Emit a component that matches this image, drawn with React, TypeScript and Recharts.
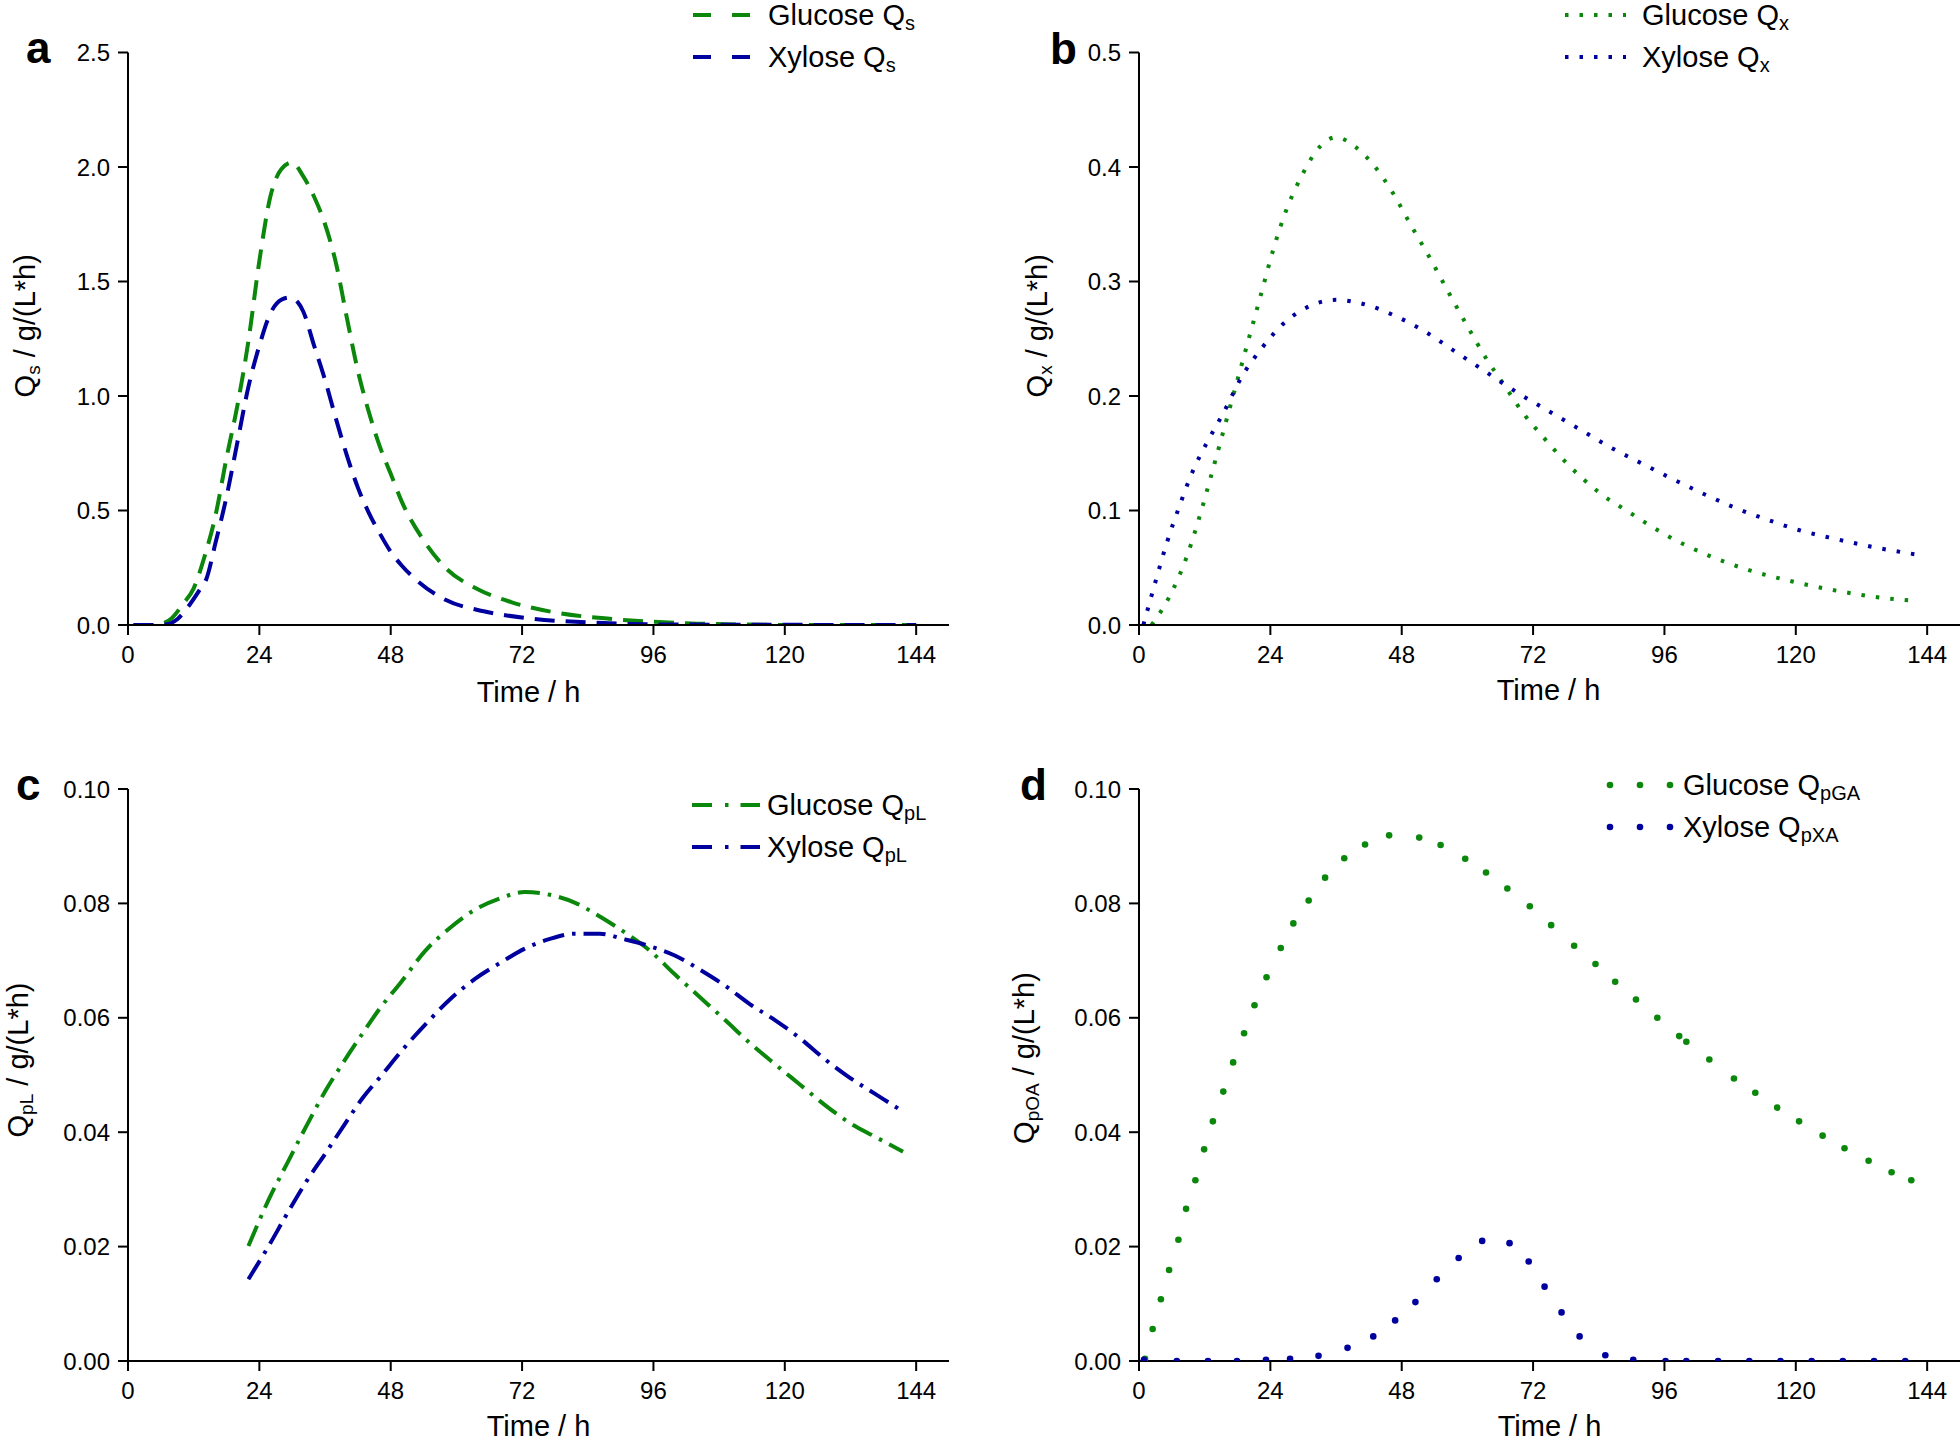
import React from 'react';
import { LineChart, Line, XAxis, YAxis, Legend } from 'recharts';

const FONT = '"Liberation Sans", Arial, Helvetica, sans-serif';
const GREEN = '#0b870b';
const BLUE = '#00009e';

// shared time axis
const timeTicks = [0, 24, 48, 72, 96, 120, 144];
const timeMinorTicks = [12, 36, 60, 84, 108, 132];
const timeDomain: [number, number] = [0, 150];

// ---------- panel a : substrate uptake Qs ----------
const qsTicks = [0, 0.5, 1.0, 1.5, 2.0, 2.5];
const qsMinorTicks = [0.25, 0.75, 1.25, 1.75, 2.25];
const glucoseQsTime = [1, 4, 6, 8, 10, 12, 14, 16, 18, 20, 22, 24, 26, 28, 30, 32, 34, 36, 38, 40, 42, 44, 46, 48, 50, 54, 58, 64, 70, 78, 88, 96, 104, 112, 124, 144];
const glucoseQsValue = [0, 0, 0.005, 0.03, 0.09, 0.16, 0.3, 0.48, 0.73, 0.96, 1.24, 1.59, 1.87, 1.99, 2.02, 1.96, 1.87, 1.75, 1.58, 1.34, 1.11, 0.93, 0.78, 0.66, 0.54, 0.37, 0.25, 0.155, 0.1, 0.055, 0.027, 0.014, 0.006, 0.002, 0, 0];
const xyloseQsTime = [1, 4, 7, 9, 11, 13, 14.3, 16, 18, 20, 22, 24, 26, 28, 29.5, 31, 32, 34, 36, 38, 40, 42, 44, 46, 48, 50, 53, 58, 65, 73, 85, 100, 144];
const xyloseQsValue = [0, 0, 0.003, 0.025, 0.08, 0.15, 0.2, 0.36, 0.56, 0.8, 1.04, 1.22, 1.36, 1.42, 1.43, 1.41, 1.37, 1.22, 1.07, 0.9, 0.74, 0.6, 0.49, 0.4, 0.32, 0.26, 0.19, 0.11, 0.06, 0.03, 0.01, 0.002, 0];

// ---------- panel b : biomass Qx ----------
const qxTicks = [0, 0.1, 0.2, 0.3, 0.4, 0.5];
const qxMinorTicks = [0.05, 0.15, 0.25, 0.35, 0.45];
const glucoseQxTime = [2.3, 5.7, 8.6, 10.9, 13.1, 15.4, 17.7, 20, 22.3, 24.6, 26.8, 29.7, 33.1, 36, 39.4, 42.8, 46.3, 49.7, 53.1, 56.5, 60, 63.4, 66.8, 70.2, 73.7, 78.2, 84, 89.7, 96.5, 103.4, 111.4, 119.4, 127.4, 135.4, 142.2];
const glucoseQxValue = [0, 0.026, 0.058, 0.092, 0.129, 0.169, 0.209, 0.249, 0.289, 0.329, 0.361, 0.392, 0.418, 0.426, 0.418, 0.402, 0.378, 0.349, 0.321, 0.291, 0.261, 0.233, 0.209, 0.185, 0.165, 0.141, 0.116, 0.098, 0.078, 0.062, 0.048, 0.038, 0.03, 0.024, 0.021];
const xyloseQxTime = [0.8, 2.9, 5.1, 7.4, 9.7, 12.6, 15.4, 18.8, 22.3, 26.8, 31.4, 36, 40.5, 46.3, 52, 57.7, 63.4, 69.1, 74.8, 80.5, 86.2, 91.9, 97.7, 103.4, 109.1, 114.8, 120.5, 127.4, 134.2, 142.8];
const xyloseQxValue = [0, 0.036, 0.072, 0.104, 0.133, 0.161, 0.185, 0.217, 0.241, 0.265, 0.279, 0.284, 0.281, 0.271, 0.257, 0.239, 0.221, 0.203, 0.187, 0.171, 0.155, 0.141, 0.127, 0.114, 0.102, 0.092, 0.083, 0.075, 0.068, 0.061];

// ---------- panel c : lipid QpL ----------
const qpTicks = [0, 0.02, 0.04, 0.06, 0.08, 0.1];
const qpMinorTicks = [0.01, 0.03, 0.05, 0.07, 0.09];
const glucoseQpLTime = [22, 25.7, 29.1, 32.6, 36, 39.4, 42.8, 46.3, 49.7, 54.3, 58.8, 63.4, 68, 72.5, 77.1, 81.7, 86.2, 90.8, 95.4, 99.9, 104.5, 109.1, 113.6, 118.2, 122.8, 127.4, 131.9, 136.5, 141.6];
const glucoseQpLValue = [0.0201, 0.0282, 0.0346, 0.0411, 0.0471, 0.0523, 0.0572, 0.062, 0.066, 0.0717, 0.0757, 0.0789, 0.0809, 0.082, 0.0815, 0.0801, 0.0777, 0.0749, 0.0717, 0.0676, 0.0636, 0.0596, 0.0556, 0.0519, 0.0483, 0.0447, 0.0416, 0.0392, 0.0366];
const xyloseQpLTime = [22, 25.7, 29.1, 32.6, 36, 39.4, 42.8, 46.3, 49.7, 54.3, 58.8, 63.4, 68, 72.5, 77.1, 81.7, 86.2, 90.8, 95.4, 99.9, 104.5, 109.1, 113.6, 118.2, 122.8, 127.4, 131.9, 136.5, 141.1];
const xyloseQpLValue = [0.0143, 0.0201, 0.0258, 0.0314, 0.0362, 0.0411, 0.0459, 0.0499, 0.0539, 0.0588, 0.0632, 0.0668, 0.0696, 0.0721, 0.0738, 0.0747, 0.0747, 0.0737, 0.0725, 0.0709, 0.0684, 0.0656, 0.0624, 0.0596, 0.0564, 0.0527, 0.0495, 0.0467, 0.0439];

// ---------- panel d : organic acids QpOA ----------
const glucoseQpGATime = [1.1, 2.5, 4.0, 5.5, 7.2, 8.6, 10.3, 11.9, 13.5, 15.4, 17.2, 19.2, 21.1, 23.3, 25.9, 28.2, 31, 34, 37.5, 41.3, 45.7, 51.2, 55.1, 59.6, 63.4, 67.3, 71.4, 75.3, 79.5, 83.4, 87, 90.8, 94.7, 98.7, 100, 104.2, 108.7, 112.6, 116.6, 120.6, 124.9, 128.9, 133.3, 137.5, 141.1];
const glucoseQpGAValue = [0.0004, 0.0056, 0.0108, 0.0159, 0.0212, 0.0266, 0.0316, 0.037, 0.0419, 0.0471, 0.0522, 0.0573, 0.0622, 0.0671, 0.0722, 0.0765, 0.0805, 0.0845, 0.0879, 0.0903, 0.0919, 0.0915, 0.0902, 0.0878, 0.0854, 0.0826, 0.0795, 0.0762, 0.0726, 0.0694, 0.0663, 0.0632, 0.06, 0.0568, 0.0558, 0.0527, 0.0494, 0.0469, 0.0443, 0.0419, 0.0394, 0.0372, 0.035, 0.033, 0.0316];
const xyloseQpXATime = [0.9, 6.9, 12.6, 17.9, 23.2, 27.6, 32.8, 38.1, 42.8, 46.8, 50.5, 54.4, 58.4, 62.7, 67.7, 71.2, 74.1, 77.2, 80.5, 85.2, 90.3, 96.2, 100, 105.8, 111.5, 117.2, 122.9, 128.6, 134.3, 140];
const xyloseQpXAValue = [0.0002, 0, 0, 0, 0.0002, 0.0004, 0.0009, 0.0023, 0.0043, 0.0071, 0.0103, 0.0143, 0.018, 0.021, 0.0206, 0.0174, 0.013, 0.0085, 0.0043, 0.001, 0.0002, 0, 0, 0, 0, 0, 0, 0, 0, 0];

const zip = (t: number[], v: number[]) => t.map((x, i) => ({ t: x, v: v[i] }));

type Kind = 'dash' | 'dot' | 'dashdot' | 'scatter';

const STYLE: Record<Kind, { dash?: string; width: number }> = {
  dash: { dash: '20 11', width: 4 },
  dot: { dash: '3.5 11', width: 4 },
  dashdot: { dash: '22 8 3.5 8', width: 4 },
  scatter: { width: 0 },
};

const axisLine = { stroke: '#000', strokeWidth: 2 };
const tickLine = { stroke: '#000', strokeWidth: 2 };
const tickFont = { fontSize: 24, fill: '#000', fontFamily: FONT };

const xTitle = (dx: number, dy: number) => (props: any) => {
  const vb = props.viewBox || {};
  const x = (vb.x ?? 0) + (vb.width ?? 0) / 2 + dx;
  const y = (vb.y ?? 0) + dy;
  return (
    <text x={x} y={y} textAnchor="middle" dominantBaseline="central" fontSize={29} fontFamily={FONT} fill="#000">
      Time / h
    </text>
  );
};

const yTitle = (sub: string, cx: number, dy: number) => (props: any) => {
  const vb = props.viewBox || {};
  const x = (vb.x ?? 0) + cx;
  const y = (vb.y ?? 0) + (vb.height ?? 0) / 2 + dy;
  return (
    <text x={x} y={y} transform={`rotate(-90 ${x} ${y})`} textAnchor="middle" dominantBaseline="central" fontSize={29} fontFamily={FONT} fill="#000">
      Q<tspan dy={8} fontSize={19}>{sub}</tspan>
      <tspan dy={-8}> / g/(L*h)</tspan>
    </text>
  );
};

type Item = { label: string; sub: string; color: string };

const LegendBox = ({ items, kind, textX }: { items: Item[]; kind: Kind; textX: number }) => (
  <svg width={330} height={84} style={{ overflow: 'visible', display: 'block' }}>
    {items.map((it, i) => {
      const y = 21 + 42 * i;
      let sample: React.ReactNode = null;
      if (kind === 'dash') {
        sample = <line x1={3} x2={60} y1={y} y2={y} stroke={it.color} strokeWidth={4} strokeDasharray="18 21" />;
      } else if (kind === 'dot') {
        sample = <line x1={0} x2={61} y1={y} y2={y} stroke={it.color} strokeWidth={4} strokeDasharray="3.5 11" />;
      } else if (kind === 'dashdot') {
        sample = <line x1={2} x2={70} y1={y} y2={y} stroke={it.color} strokeWidth={4} strokeDasharray="20 13 3.5 12 20" />;
      } else {
        sample = (
          <g fill={it.color}>
            <circle cx={5} cy={y} r={3.3} />
            <circle cx={35} cy={y} r={3.3} />
            <circle cx={65} cy={y} r={3.3} />
          </g>
        );
      }
      return (
        <g key={i}>
          {sample}
          <text x={textX} y={y} dominantBaseline="central" fontSize={29} fontFamily={FONT} fill="#000">
            {it.label} Q<tspan dy={8} fontSize={20}>{it.sub}</tspan>
          </text>
        </g>
      );
    })}
  </svg>
);

type PanelProps = {
  left: number;
  top: number;
  yWidth: number;
  marginTop: number;
  marginRight: number;
  xHeight: number;
  yDomain: [number, number];
  yTicks: number[];
  yMinor: number[];
  decimals: number;
  ySub: string;
  yTitleX: number;
  yTitleDy: number;
  xTitleDx: number;
  xTitleDy: number;
  kind: Kind;
  series: { name: string; sub: string; color: string; data: { t: number; v: number }[] }[];
  legendLeft: number;
  legendTop: number;
  legendTextX: number;
};

const Panel = (p: PanelProps) => {
  const st = STYLE[p.kind];
  return (
    <div style={{ position: 'absolute', left: p.left, top: p.top }}>
      <LineChart width={980} height={722} margin={{ top: p.marginTop, right: p.marginRight, left: 0, bottom: 0 }}>
        <XAxis
          xAxisId="main"
          type="number"
          dataKey="t"
          domain={timeDomain}
          ticks={timeTicks}
          interval={0}
          allowDataOverflow
          height={p.xHeight}
          axisLine={axisLine}
          tickLine={tickLine}
          tickSize={10}
          tickMargin={11}
          tick={tickFont}
          label={xTitle(p.xTitleDx, p.xTitleDy)}
        />
        <XAxis
          xAxisId="minor"
          type="number"
          dataKey="t"
          domain={timeDomain}
          ticks={timeMinorTicks}
          interval={0}
          allowDataOverflow
          height={0}
          axisLine={false}
          tickLine={tickLine}
          tickSize={6}
          tick={false}
        />
        <YAxis
          yAxisId="main"
          type="number"
          domain={p.yDomain}
          ticks={p.yTicks}
          interval={0}
          allowDataOverflow
          width={p.yWidth}
          axisLine={axisLine}
          tickLine={tickLine}
          tickSize={10}
          tickMargin={8}
          tick={tickFont}
          tickFormatter={(v: number) => v.toFixed(p.decimals)}
          label={yTitle(p.ySub, p.yTitleX, p.yTitleDy)}
        />
        <YAxis
          yAxisId="minor"
          type="number"
          domain={p.yDomain}
          ticks={p.yMinor}
          interval={0}
          allowDataOverflow
          width={0}
          axisLine={false}
          tickLine={tickLine}
          tickSize={6}
          tick={false}
        />
        {p.series.map((s) =>
          p.kind === 'scatter' ? (
            <Line
              key={s.name}
              xAxisId="main"
              yAxisId="main"
              data={s.data}
              dataKey="v"
              name={s.name}
              stroke="none"
              dot={{ r: 3.3, fill: s.color, stroke: 'none' }}
              activeDot={false}
              isAnimationActive={false}
            />
          ) : (
            <Line
              key={s.name}
              xAxisId="main"
              yAxisId="main"
              data={s.data}
              dataKey="v"
              name={s.name}
              type="monotone"
              stroke={s.color}
              strokeWidth={st.width}
              strokeDasharray={st.dash}
              dot={false}
              activeDot={false}
              isAnimationActive={false}
            />
          )
        )}
        <Legend
          layout="vertical"
          align="center"
          verticalAlign="middle"
          wrapperStyle={{ left: p.legendLeft, top: p.legendTop, width: 330, height: 84 }}
          content={() => (
            <LegendBox
              items={p.series.map((s) => ({ label: s.name, sub: s.sub, color: s.color }))}
              kind={p.kind}
              textX={p.legendTextX}
            />
          )}
        />
      </LineChart>
    </div>
  );
};

export default function App() {
  return (
    <div style={{ position: 'absolute', left: 0, top: 0, width: 1960, height: 1444, background: '#fff', overflow: 'hidden', fontFamily: FONT }}>
      <Panel
        left={0}
        top={0}
        yWidth={128}
        marginTop={52.5}
        marginRight={31}
        xHeight={97}
        yDomain={[0, 2.5]}
        yTicks={qsTicks}
        yMinor={qsMinorTicks}
        decimals={1}
        ySub="s"
        yTitleX={25}
        yTitleDy={-13}
        xTitleDx={-10}
        xTitleDy={67}
        kind="dash"
        series={[
          { name: 'Glucose', sub: 's', color: GREEN, data: zip(glucoseQsTime, glucoseQsValue) },
          { name: 'Xylose', sub: 's', color: BLUE, data: zip(xyloseQsTime, xyloseQsValue) },
        ]}
        legendLeft={690}
        legendTop={-6}
        legendTextX={78}
      />
      <Panel
        left={980}
        top={0}
        yWidth={159}
        marginTop={52.5}
        marginRight={0}
        xHeight={97}
        yDomain={[0, 0.5]}
        yTicks={qxTicks}
        yMinor={qxMinorTicks}
        decimals={1}
        ySub="x"
        yTitleX={57}
        yTitleDy={-13}
        xTitleDx={-1}
        xTitleDy={65}
        kind="dot"
        series={[
          { name: 'Glucose', sub: 'x', color: GREEN, data: zip(glucoseQxTime, glucoseQxValue) },
          { name: 'Xylose', sub: 'x', color: BLUE, data: zip(xyloseQxTime, xyloseQxValue) },
        ]}
        legendLeft={585}
        legendTop={-6}
        legendTextX={77}
      />
      <Panel
        left={0}
        top={722}
        yWidth={128}
        marginTop={67}
        marginRight={31}
        xHeight={83}
        yDomain={[0, 0.1]}
        yTicks={qpTicks}
        yMinor={qpMinorTicks}
        decimals={2}
        ySub="pL"
        yTitleX={18}
        yTitleDy={-15}
        xTitleDx={0}
        xTitleDy={65}
        kind="dashdot"
        series={[
          { name: 'Glucose', sub: 'pL', color: GREEN, data: zip(glucoseQpLTime, glucoseQpLValue) },
          { name: 'Xylose', sub: 'pL', color: BLUE, data: zip(xyloseQpLTime, xyloseQpLValue) },
        ]}
        legendLeft={690}
        legendTop={62}
        legendTextX={77}
      />
      <Panel
        left={980}
        top={722}
        yWidth={159}
        marginTop={67}
        marginRight={0}
        xHeight={83}
        yDomain={[0, 0.1]}
        yTicks={qpTicks}
        yMinor={qpMinorTicks}
        decimals={2}
        ySub="pOA"
        yTitleX={44}
        yTitleDy={-17}
        xTitleDx={0}
        xTitleDy={65}
        kind="scatter"
        series={[
          { name: 'Glucose', sub: 'pGA', color: GREEN, data: zip(glucoseQpGATime, glucoseQpGAValue) },
          { name: 'Xylose', sub: 'pXA', color: BLUE, data: zip(xyloseQpXATime, xyloseQpXAValue) },
        ]}
        legendLeft={625}
        legendTop={42}
        legendTextX={78}
      />
      <svg width={1960} height={1444} style={{ position: 'absolute', left: 0, top: 0, pointerEvents: 'none' }}>
        <g fontFamily={FONT} fontWeight="bold" fontSize={44} fill="#000">
          <text x={26} y={63}>a</text>
          <text x={1050} y={64}>b</text>
          <text x={16} y={800}>c</text>
          <text x={1020} y={800}>d</text>
        </g>
      </svg>
    </div>
  );
}
